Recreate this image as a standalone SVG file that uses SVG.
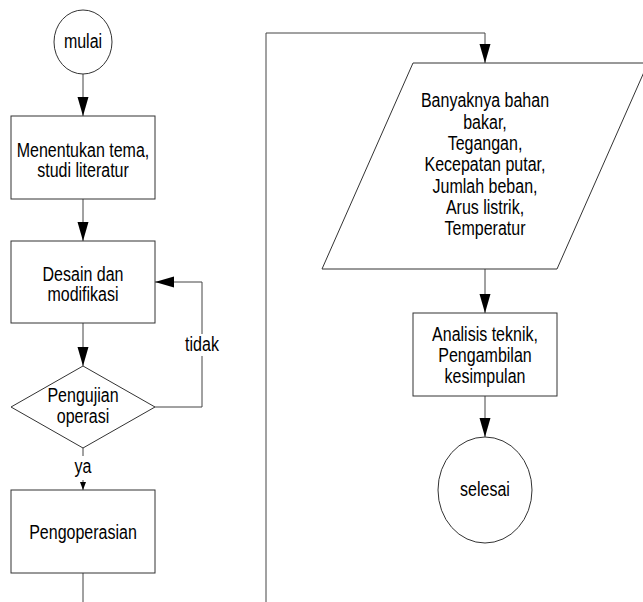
<svg xmlns="http://www.w3.org/2000/svg" width="643" height="602" viewBox="0 0 643 602">
<defs>
<marker id="arr" markerUnits="userSpaceOnUse" markerWidth="20" markerHeight="12" refX="19" refY="5.5" orient="auto">
<path d="M0,0 L19,5.5 L0,11 Z" fill="#000"/>
</marker>
<marker id="arrs" markerUnits="userSpaceOnUse" markerWidth="9" markerHeight="6" refX="8" refY="3" orient="auto">
<path d="M0,0 L8,3 L0,6 Z" fill="#000"/>
</marker>
<style>
.s{fill:#fff;stroke:#333;stroke-width:1}
.c{fill:none;stroke:#444;stroke-width:1}
text{font-family:"Liberation Sans",Arial,sans-serif;font-size:20px;fill:#000;text-anchor:middle}
</style>
</defs>
<rect width="643" height="602" fill="#fff"/>
<g id="connectors">
<path class="c" d="M83,74 V116" marker-end="url(#arr)"/>
<path class="c" d="M83,199 V241" marker-end="url(#arr)"/>
<path class="c" d="M83,323 V366" marker-end="url(#arr)"/>
<path class="c" d="M155,407 H202 V282 H155" marker-end="url(#arr)"/>
<path class="c" d="M83,448 V490" marker-end="url(#arrs)"/>
<path class="c" d="M83,573 V602"/>
<path class="c" d="M266,602 V33 H485 V63" marker-end="url(#arr)"/>
<path class="c" d="M485,269 V313" marker-end="url(#arr)"/>
<path class="c" d="M485,396 V437" marker-end="url(#arr)"/>
<rect x="184" y="334" width="37" height="22" fill="#fff"/>
<g transform="translate(202 0) scale(0.8 1)"><text x="0" y="351">tidak</text></g>
<rect x="73" y="456" width="20" height="24" fill="#fff"/>
<g transform="translate(83 0) scale(0.8 1)"><text x="0" y="473">ya</text></g>
</g>
<g id="mulai">
<ellipse class="s" cx="83" cy="42" rx="29" ry="32"/>
<g transform="translate(83 0) scale(0.8 1)"><text x="0" y="48.5">mulai</text></g>
</g>
<g id="menentukan">
<rect class="s" x="11" y="116" width="144" height="83"/>
<g transform="translate(83 0) scale(0.8 1)">
<text x="0" y="157">Menentukan tema,</text>
<text x="0" y="177">studi literatur</text>
</g>
</g>
<g id="desain">
<rect class="s" x="11" y="241" width="144" height="82"/>
<g transform="translate(83 0) scale(0.8 1)">
<text x="0" y="281">Desain dan</text>
<text x="0" y="301">modifikasi</text>
</g>
</g>
<g id="pengujian">
<polygon class="s" points="83,366 155,407 83,448 11,407"/>
<g transform="translate(83 0) scale(0.8 1)">
<text x="0" y="402.5">Pengujian</text>
<text x="0" y="423">operasi</text>
</g>
</g>
<g id="pengoperasian">
<rect class="s" x="11" y="490" width="144" height="83"/>
<g transform="translate(83 0) scale(0.8 1)"><text x="0" y="539">Pengoperasian</text></g>
</g>
<g id="data">
<polygon class="s" points="413,63 648,63 557,269 322,269"/>
<g transform="translate(485 0) scale(0.8 1)">
<text x="0" y="107.5">Banyaknya bahan</text>
<text x="0" y="128.8">bakar,</text>
<text x="0" y="150.1">Tegangan,</text>
<text x="0" y="171.4">Kecepatan putar,</text>
<text x="0" y="192.7">Jumlah beban,</text>
<text x="0" y="214">Arus listrik,</text>
<text x="0" y="235.3">Temperatur</text>
</g>
</g>
<g id="analisis">
<rect class="s" x="413" y="313" width="144" height="83"/>
<g transform="translate(485 0) scale(0.8 1)">
<text x="0" y="340.7">Analisis teknik,</text>
<text x="0" y="361.7">Pengambilan</text>
<text x="0" y="382.7">kesimpulan</text>
</g>
</g>
<g id="selesai">
<ellipse class="s" cx="485" cy="490" rx="47" ry="53"/>
<g transform="translate(485 0) scale(0.8 1)"><text x="0" y="496">selesai</text></g>
</g>
</svg>
